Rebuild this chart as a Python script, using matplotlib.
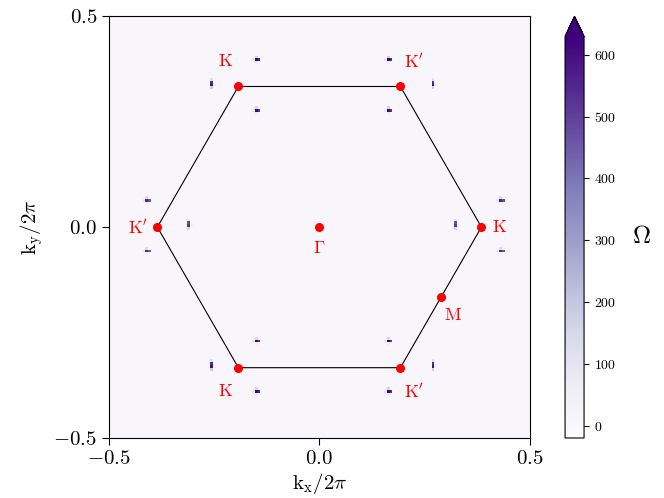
import numpy as np
import matplotlib
matplotlib.use("Agg")
import matplotlib.pyplot as plt

plt.rcParams['font.family'] = 'serif'
plt.rcParams['font.serif'] = ['cmr10']
plt.rcParams['mathtext.fontset'] = 'cm'
plt.rcParams['axes.formatter.use_mathtext'] = True

# Berry curvature hot spots (kx/2pi, ky/2pi, Omega, orientation)
spot_kx = [-0.153, -0.260, -0.153, 0.160, 0.267, 0.160,
           -0.414, -0.313, -0.414, 0.424, 0.322, 0.424,
           -0.153, -0.260, -0.153, 0.160, 0.267, 0.160]
spot_ky = [0.396, 0.334, 0.275, 0.396, 0.334, 0.275,
           0.062, 0.000, -0.057, 0.062, 0.000, -0.057,
           -0.273, -0.332, -0.391, -0.273, -0.332, -0.391]
spot_val = [640, 600, 620, 640, 600, 620,
            560, 520, 540, 560, 520, 540,
            620, 600, 640, 620, 600, 640]
spot_vert = [0, 1, 0, 0, 1, 0,
             0, 1, 0, 0, 1, 0,
             0, 1, 0, 0, 1, 0]
background = 10

# high-symmetry points
pt_kx = [-0.19245, 0.19245, -0.3849, 0.3849, -0.19245, 0.19245, 0.0, 0.28868]
pt_ky = [0.33333, 0.33333, 0.0, 0.0, -0.33333, -0.33333, 0.0, -0.16667]
pt_lab = [r'$\mathrm{K}$', r"$\mathrm{K}'$", r"$\mathrm{K}'$", r'$\mathrm{K}$',
          r'$\mathrm{K}$', r"$\mathrm{K}'$", r'$\Gamma$', r'$\mathrm{M}$']
pt_off = [(-9, 18), (10, 18), (-14, 0), (13, 0), (-9, -17), (10, -17), (0, -15), (9, -13)]

# hexagon (BZ boundary)
hex_kx = [0.3849, 0.19245, -0.19245, -0.3849, -0.19245, 0.19245, 0.3849]
hex_ky = [0.0, 0.33333, 0.33333, 0.0, -0.33333, -0.33333, 0.0]

N = 150
edges = np.linspace(-0.5, 0.5, N + 1)
omega = np.full((N, N), float(background))
for x, y, v, vert in zip(spot_kx, spot_ky, spot_val, spot_vert):
    i = int(round((y + 0.5) * N))
    j = int(round((x + 0.5) * N))
    omega[i, j] = v
    if vert:
        omega[i + 1, j] = v * 0.9
        omega[i - 1, j] = v * 0.3
        omega[i + 2, j] = v * 0.2
        omega[i, j + 1] = v * 0.08
    else:
        omega[i, j + 1] = v * 0.85
        omega[i + 1, j] = v * 0.25
        omega[i, j - 1] = v * 0.15
        omega[i - 1, j] = v * 0.08

fig = plt.figure(figsize=(6.64, 4.98), dpi=100)
ax = fig.add_axes([0.164, 0.1205, 0.634, 0.847])
cax = fig.add_axes([0.851, 0.1205, 0.0286, 0.847])

mesh = ax.pcolormesh(edges, edges, omega, cmap='Purples', vmin=-20, vmax=630)
ax.plot(hex_kx, hex_ky, color='black', lw=0.8)
ax.plot(pt_kx, pt_ky, 'o', color='red', ms=5.5)
for x, y, lab, off in zip(pt_kx, pt_ky, pt_lab, pt_off):
    ax.annotate(lab, (x, y), xytext=off, textcoords='offset points',
                color='red', fontsize=13, ha='center', va='center')

ax.set_xlim(-0.5, 0.5)
ax.set_ylim(-0.5, 0.5)
ax.set_xticks([-0.5, 0.0, 0.5])
ax.set_yticks([-0.5, 0.0, 0.5])
ax.tick_params(labelsize=15, length=5)
ax.set_xlabel(r'$\mathrm{k_x}/2\pi$', fontsize=15, labelpad=2)
ax.set_ylabel(r'$\mathrm{k_y}/2\pi$', fontsize=15, labelpad=6)

cb = fig.colorbar(mesh, cax=cax, extend='max')
cb.set_ticks([0, 100, 200, 300, 400, 500, 600])
cb.ax.tick_params(labelsize=10)
cb.set_label(r'$\Omega$', fontsize=18, rotation=0, labelpad=18, va='center')

fig.savefig('out.png', dpi=100)
